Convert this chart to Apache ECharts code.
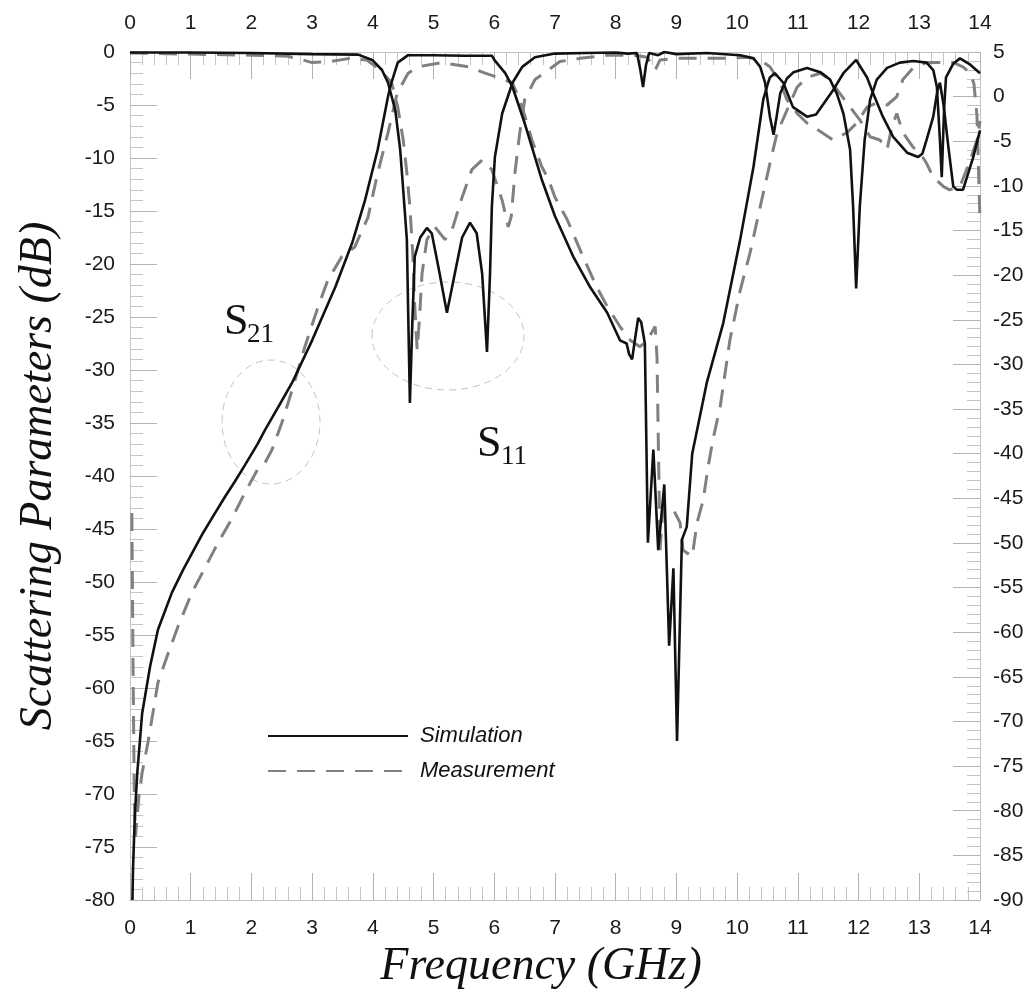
<!DOCTYPE html>
<html>
<head>
<meta charset="utf-8">
<script src="https://cdn.jsdelivr.net/npm/echarts@6/dist/echarts.min.js"></script>
<style>
  html, body { margin: 0; background: #fff; }
  #chart { width: 1036px; height: 999px; }
</style>
</head>
<body>
<div id="chart"></div>
<script>
// S21 simulation (GHz / dB)
const s21SimF = [0.04, 0.05, 0.08, 0.12, 0.2, 0.33, 0.46, 0.69, 0.87, 1.2, 1.4, 1.56, 1.73, 1.89, 2.1, 2.22, 2.45, 2.67, 3.0, 3.38, 3.66, 3.87, 4.08, 4.25, 4.3, 4.41, 4.58, 5.0, 5.5, 5.96, 6.0, 6.18, 6.3, 6.5, 6.78, 7.0, 7.3, 7.58, 7.86, 8.07, 8.18, 8.22, 8.27, 8.32, 8.37, 8.42, 8.48, 8.53, 8.62, 8.7, 8.8, 8.88, 8.95, 9.01, 9.09, 9.17, 9.26, 9.5, 9.77, 10.05, 10.27, 10.43, 10.51, 10.54, 10.62, 10.76, 10.92, 11.15, 11.3, 11.47, 11.58, 11.75, 11.96, 12.14, 12.24, 12.4, 12.57, 12.8, 12.98, 13.05, 13.12, 13.23, 13.3, 13.34, 13.4, 13.48, 13.56, 13.62, 13.72, 13.89, 14.0];
const s21SimDb = [-80, -77, -72, -68, -62.4, -58, -54.5, -51, -48.9, -45.4, -43.5, -42, -40.5, -39, -37, -35.7, -33.4, -31.2, -27.2, -22.2, -18, -14, -9.2, -4.2, -3, -1, -0.3, -0.3, -0.35, -0.35, -0.75, -2, -3.3, -6.7, -12, -15.5, -19.3, -22.2, -24.6, -27.2, -27.5, -28.5, -29, -27, -25.1, -25.5, -27.5, -46.3, -37.5, -47, -40.8, -56, -48.7, -65, -46, -44.8, -37.9, -31.2, -25.6, -17.7, -10.8, -4.5, -2.9, -2.4, -2, -2.9, -5.2, -6.1, -5.9, -4.5, -3.6, -2, -0.75, -2.4, -3.9, -6.1, -8, -9.5, -9.9, -9.6, -8.3, -6.1, -3.6, -2.9, -5, -9, -12.7, -13, -13, -9.9, -7.4];

// S11 simulation
const s11SimF = [0, 1, 2, 3, 3.76, 3.99, 4.15, 4.25, 4.37, 4.45, 4.5, 4.56, 4.58, 4.61, 4.65, 4.69, 4.78, 4.89, 4.97, 5.08, 5.22, 5.35, 5.47, 5.6, 5.71, 5.8, 5.88, 5.93, 5.96, 6.01, 6.13, 6.3, 6.46, 6.67, 7.0, 7.5, 8.0, 8.2, 8.35, 8.4, 8.45, 8.5, 8.55, 8.7, 8.8, 9.0, 9.5, 10.05, 10.27, 10.38, 10.46, 10.54, 10.6, 10.65, 10.71, 10.82, 10.93, 11.15, 11.37, 11.53, 11.64, 11.75, 11.86, 11.91, 11.96, 12.02, 12.1, 12.19, 12.3, 12.47, 12.68, 12.9, 13.12, 13.23, 13.29, 13.34, 13.37, 13.41, 13.44, 13.56, 13.67, 13.84, 14.0];
const s11SimDb = [-0.05, -0.05, -0.1, -0.2, -0.25, -0.75, -1.7, -2.9, -5.5, -9.2, -13, -17.7, -24, -33.1, -25.6, -19.3, -17.5, -16.6, -17.1, -20.3, -24.6, -20.9, -17.5, -16.1, -17.1, -20.9, -28.3, -20.9, -14.6, -9.9, -5.8, -2.9, -1.4, -0.5, -0.15, -0.1, -0.05, -0.15, -0.1, -1.5, -3.3, -1.2, -0.1, -0.3, 0, -0.2, -0.1, -0.3, -0.6, -1.4, -2.9, -6.1, -7.8, -6.1, -3.9, -2.5, -1.9, -1.5, -1.9, -2.6, -3.9, -5.8, -9.2, -14.6, -22.3, -14.6, -8.3, -4.5, -2.6, -1.5, -1, -0.85, -1, -1.7, -3.3, -8.3, -11.8, -5.2, -2.4, -1.1, -0.6, -1.2, -2];

// S21 measurement
const s21MeasF = [0.03, 0.05, 0.07, 0.09, 0.12, 0.15, 0.2, 0.3, 0.46, 0.63, 0.79, 1.02, 1.24, 1.45, 1.68, 1.89, 2.1, 2.22, 2.34, 2.5, 2.67, 2.88, 3.1, 3.26, 3.49, 3.7, 3.92, 4.08, 4.25, 4.4, 4.58, 4.74, 5.14, 5.57, 5.85, 6.06, 6.3, 6.46, 6.62, 6.78, 6.89, 7.0, 7.2, 7.46, 7.69, 7.86, 8.07, 8.24, 8.4, 8.52, 8.65, 8.68, 8.73, 8.78, 8.95, 9.06, 9.11, 9.26, 9.34, 9.44, 9.52, 9.6, 9.72, 9.88, 10.05, 10.21, 10.38, 10.54, 10.66, 10.82, 10.99, 11.15, 11.37, 11.53, 11.69, 11.86, 12.02, 12.19, 12.35, 12.47, 12.55, 12.63, 12.73, 12.9, 13.01, 13.12, 13.23, 13.4, 13.5, 13.67, 13.84, 13.95, 14.0];
const s21MeasDb = [-43.5, -58, -70, -74, -72, -70, -68, -65, -59.5, -56.7, -54.2, -51, -48.6, -46.3, -44, -41.6, -39.4, -38.8, -37.5, -35, -31.9, -27.8, -24, -21.5, -19.3, -18.4, -15.6, -11.4, -7.6, -3.9, -2, -1.4, -1, -1.4, -2, -2.4, -2.9, -5.2, -8.3, -10.8, -12, -13.7, -15.8, -19.3, -22.2, -24, -25.9, -27.2, -27.8, -27.2, -25.9, -28.8, -47, -42.9, -43.2, -44.4, -47, -47.6, -44.4, -42.3, -39.2, -36.6, -33.5, -27.2, -22.5, -19, -14.6, -10.5, -7.6, -5.5, -3.3, -2.4, -2, -2.6, -3.9, -5.2, -6.4, -8, -8.3, -9.2, -7, -5.8, -7.6, -9, -9.5, -10.5, -11.8, -12.7, -13, -12.7, -10.2, -8.3, -6.5];

// S11 measurement
const s11MeasF = [0, 1, 2, 2.6, 2.85, 3.0, 3.3, 3.62, 3.9, 4.12, 4.31, 4.41, 4.5, 4.56, 4.61, 4.66, 4.69, 4.73, 4.77, 4.81, 4.89, 5.02, 5.19, 5.32, 5.47, 5.63, 5.8, 5.96, 6.13, 6.23, 6.28, 6.34, 6.42, 6.5, 6.67, 6.89, 7.08, 7.41, 7.86, 8.29, 8.52, 8.65, 8.73, 9.06, 9.77, 10.16, 10.38, 10.54, 10.71, 10.82, 10.99, 11.15, 11.37, 11.58, 11.81, 11.97, 12.14, 12.3, 12.47, 12.63, 12.73, 12.9, 13.12, 13.34, 13.56, 13.72, 13.84, 13.9, 13.95, 13.98, 14.0];
const s11MeasDb = [-0.1, -0.2, -0.3, -0.4, -0.75, -1, -0.9, -0.6, -0.75, -1.7, -2.9, -5.2, -8.3, -11.4, -14.6, -19.3, -24, -28.1, -25, -20.9, -17.7, -16.5, -17.7, -16.5, -13.7, -11.1, -10.2, -11.1, -14, -16.5, -15.5, -11.4, -7.6, -4.5, -2.6, -1.7, -0.9, -0.6, -0.3, -0.3, -0.5, -1.7, -0.75, -0.6, -0.6, -0.5, -0.75, -1.4, -2.9, -4.5, -5.8, -6.7, -7.5, -8.3, -7.6, -6.7, -5.2, -4.8, -5, -4.2, -2.6, -1.5, -1, -1, -1, -1.4, -2, -3, -6, -12, -16];

const pair = (f, v) => f.map((x, i) => [x, v[i]]);

const chart = echarts.init(document.getElementById('chart'));

const tickFont = { fontFamily: 'Liberation Sans', fontSize: 21, color: '#1a1a1a' };
const axisLine = { show: true, onZero: false, lineStyle: { color: '#c4c4c4', width: 1 } };
const tick = { show: true, inside: true, length: 27, lineStyle: { color: '#b4b4b4' } };
const minor = { show: true, splitNumber: 5, length: 13, lineStyle: { color: '#c4c4c4' } };

const xBase = {
  type: 'value', min: 0, max: 14, interval: 1,
  axisLine: axisLine, axisTick: tick, minorTick: minor,
  splitLine: { show: false },
  axisLabel: Object.assign({ margin: 18 }, tickFont)
};

const solid = { color: '#111', width: 2.6 };
const dashed = { color: '#808080', width: 3, type: [18, 11] };

chart.setOption({
  animation: false,
  backgroundColor: '#fff',
  grid: { left: 130, right: 56, top: 52, bottom: 99 },
  xAxis: [
    Object.assign({}, xBase, {
      position: 'bottom',
      name: 'Frequency (GHz)', nameLocation: 'middle', nameGap: 44,
      nameTextStyle: { fontFamily: 'Liberation Serif', fontStyle: 'italic', fontSize: 46, color: '#111', padding: [0, 28, 0, 0] }
    }),
    Object.assign({}, xBase, { position: 'top' })
  ],
  yAxis: [
    {
      type: 'value', min: -80, max: 0, interval: 5, position: 'left',
      axisLine: axisLine, axisTick: tick, minorTick: minor,
      splitLine: { show: false },
      axisLabel: Object.assign({ margin: 15 }, tickFont),
      name: 'Scattering Parameters (dB)', nameLocation: 'middle', nameGap: 68,
      nameTextStyle: { fontFamily: 'Liberation Serif', fontStyle: 'italic', fontSize: 46, color: '#111' }
    },
    {
      type: 'value', min: -90, max: 5, interval: 5, position: 'right',
      axisLine: axisLine, axisTick: tick, minorTick: minor,
      splitLine: { show: false },
      axisLabel: Object.assign({ margin: 13 }, tickFont)
    }
  ],
  legend: {
    orient: 'vertical', left: 262, top: 720, itemWidth: 140, itemHeight: 14, itemGap: 13,
    itemStyle: { opacity: 0 },
    textStyle: { fontFamily: 'Liberation Sans', fontStyle: 'italic', fontSize: 22, color: '#111', padding: [0, 0, 0, 7] },
    data: ['Simulation', 'Measurement']
  },
  series: [
    { name: 'Measurement', type: 'line', data: pair(s21MeasF, s21MeasDb), showSymbol: false, symbol: 'none', lineStyle: dashed, itemStyle: { color: '#808080' } },
    { name: 'Measurement', type: 'line', data: pair(s11MeasF, s11MeasDb), showSymbol: false, symbol: 'none', lineStyle: dashed, itemStyle: { color: '#808080' } },
    { name: 'Simulation', type: 'line', data: pair(s21SimF, s21SimDb), showSymbol: false, symbol: 'none', lineStyle: solid, itemStyle: { color: '#111' } },
    { name: 'Simulation', type: 'line', data: pair(s11SimF, s11SimDb), showSymbol: false, symbol: 'none', lineStyle: solid, itemStyle: { color: '#111' } }
  ],
  graphic: [
    { type: 'ellipse', shape: { cx: 271, cy: 422, rx: 49, ry: 62 }, style: { fill: 'none', stroke: '#c4c4c4', lineWidth: 1, lineDash: [7, 5] } },
    { type: 'ellipse', shape: { cx: 448, cy: 336, rx: 76, ry: 54 }, style: { fill: 'none', stroke: '#c4c4c4', lineWidth: 1, lineDash: [7, 5] } },
    { type: 'text', x: 224, y: 322, style: { text: 'S', font: '44px "Liberation Serif"', fill: '#111', textAlign: 'left', textVerticalAlign: 'middle' } },
    { type: 'text', x: 247, y: 335, style: { text: '21', font: '27px "Liberation Serif"', fill: '#111', textAlign: 'left', textVerticalAlign: 'middle' } },
    { type: 'text', x: 477, y: 444, style: { text: 'S', font: '44px "Liberation Serif"', fill: '#111', textAlign: 'left', textVerticalAlign: 'middle' } },
    { type: 'text', x: 501, y: 457, style: { text: '11', font: '27px "Liberation Serif"', fill: '#111', textAlign: 'left', textVerticalAlign: 'middle' } }
  ]
});
</script>
</body>
</html>
